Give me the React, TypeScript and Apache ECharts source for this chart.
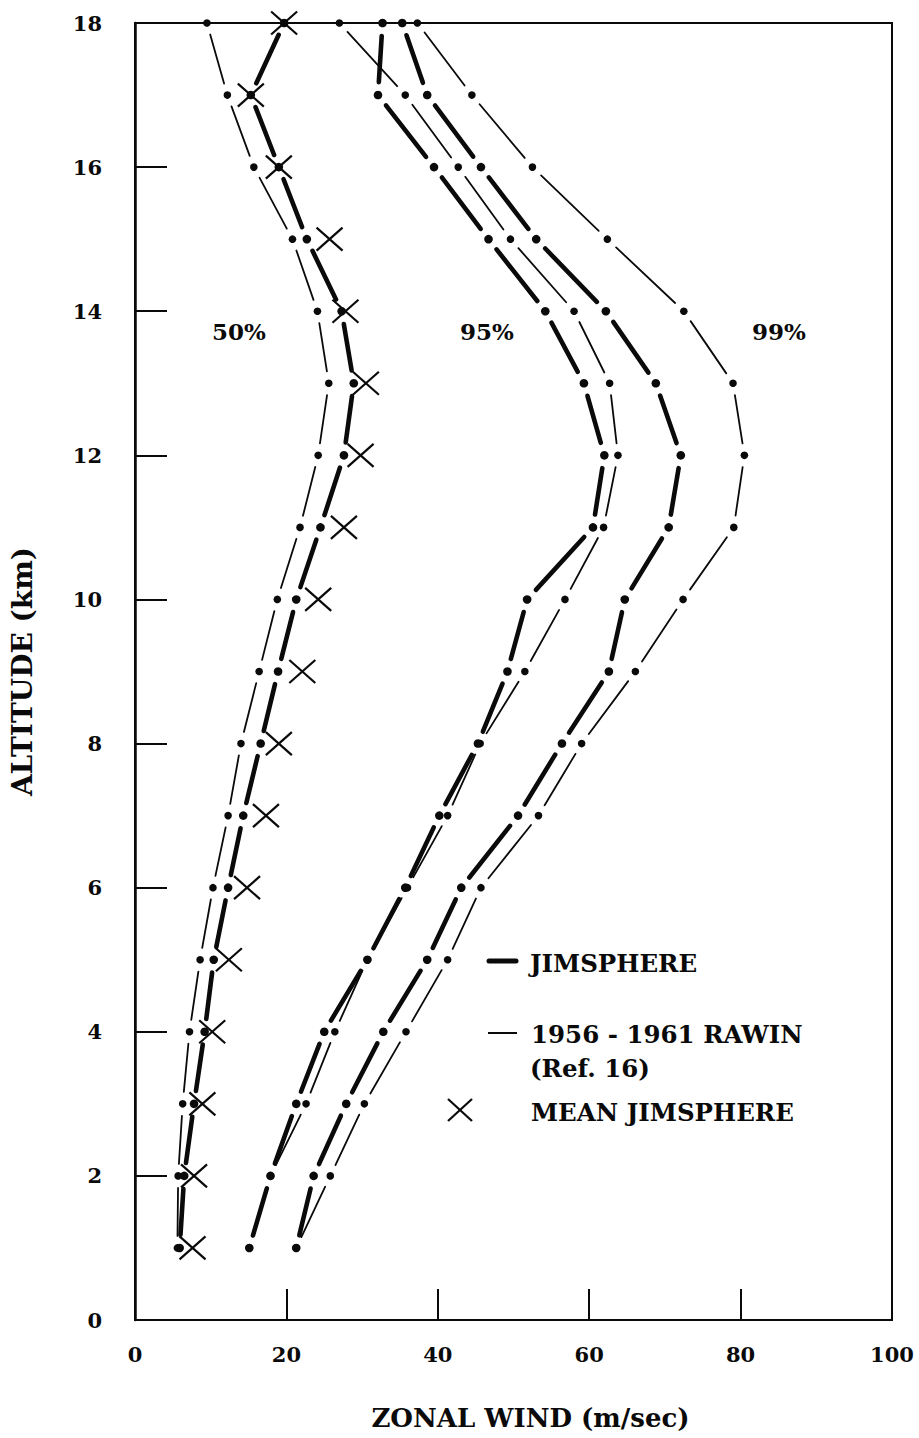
import { useEffect, useRef } from "react";
import * as echarts from "echarts";

// ---- data (altitude in km, zonal wind in m/sec) ----
const altitudeKm = [1, 2, 3, 4, 5, 6, 7, 8, 9, 10, 11, 12, 13, 14, 15, 16, 17, 18];
const rawin50 = [5.6, 5.7, 6.3, 7.2, 8.6, 10.3, 12.3, 14.0, 16.4, 18.8, 21.8, 24.2, 25.6, 24.1, 20.8, 15.7, 12.2, 9.5];
const jimsphere50 = [5.9, 6.5, 7.8, 9.2, 10.4, 12.3, 14.3, 16.6, 18.9, 21.3, 24.5, 27.6, 28.9, 27.3, 22.7, 19.0, 15.3, 19.7];
const meanJimsphere = [7.6, 7.8, 8.9, 10.2, 12.4, 14.8, 17.3, 19.0, 22.1, 24.2, 27.6, 29.8, 30.5, 27.8, 25.7, 19.0, 15.3, 19.7];
const jimsphere95 = [15.1, 17.9, 21.3, 25.0, 30.7, 35.7, 40.2, 45.3, 49.2, 51.8, 60.5, 62.0, 59.3, 54.2, 46.7, 39.5, 32.1, 32.7];
const rawin95 = [15.1, 17.9, 22.6, 26.4, 30.7, 36.0, 41.3, 45.6, 51.5, 56.8, 61.9, 63.8, 62.7, 58.0, 49.6, 42.7, 35.7, 27.0];
const jimsphere99 = [21.3, 23.6, 27.9, 32.8, 38.6, 43.1, 50.6, 56.4, 62.6, 64.7, 70.5, 72.1, 68.8, 62.2, 53.0, 45.7, 38.6, 35.3];
const rawin99 = [21.3, 25.8, 30.3, 35.8, 41.3, 45.7, 53.3, 59.0, 66.1, 72.4, 79.1, 80.5, 79.0, 72.5, 62.4, 52.5, 44.5, 37.3];

const percentLabels = ["50%", "95%", "99%"];
const legendLabels = ["JIMSPHERE", "1956 - 1961 RAWIN", "(Ref. 16)", "MEAN JIMSPHERE"];
const xAxisTitle = "ZONAL WIND (m/sec)";
const yAxisTitle = "ALTITUDE (km)";

const INK = "#0a0a0a";
const FONT = "DejaVu Serif";

function segmentRows(values: number[]) {
  return values.map((v, i) => {
    const j = i + 1 < values.length ? i + 1 : i;
    return [v, altitudeKm[i], values[j], altitudeKm[j]];
  });
}

function dashDotSeries(name: string, values: number[], width: number, dotR: number, gap: number, z: number) {
  return {
    type: "custom",
    name,
    data: segmentRows(values),
    encode: { x: [0, 2], y: [1, 3] },
    clip: false,
    z,
    silent: true,
    renderItem: (_params: any, api: any) => {
      const p0 = api.coord([Number(api.value(0)), Number(api.value(1))]);
      const p1 = api.coord([Number(api.value(2)), Number(api.value(3))]);
      const children: any[] = [
        { type: "circle", shape: { cx: p0[0], cy: p0[1], r: dotR }, style: { fill: INK } },
      ];
      const dx = p1[0] - p0[0];
      const dy = p1[1] - p0[1];
      const L = Math.sqrt(dx * dx + dy * dy);
      if (L > 2 * gap + 2) {
        const ux = dx / L;
        const uy = dy / L;
        children.push({
          type: "line",
          shape: { x1: p0[0] + ux * gap, y1: p0[1] + uy * gap, x2: p1[0] - ux * gap, y2: p1[1] - uy * gap },
          style: { stroke: INK, lineWidth: width, lineCap: "round" },
        });
      }
      return { type: "group", children };
    },
  };
}

function crossSeries(name: string, values: number[]) {
  return {
    type: "custom",
    name,
    data: values.map((v, i) => [v, altitudeKm[i]]),
    clip: false,
    z: 5,
    silent: true,
    renderItem: (_params: any, api: any) => {
      const p = api.coord([api.value(0), api.value(1)]);
      const hw = 13;
      const hh = 11.5;
      return {
        type: "group",
        children: [
          { type: "line", shape: { x1: p[0] - hw, y1: p[1] - hh, x2: p[0] + hw, y2: p[1] + hh }, style: { stroke: INK, lineWidth: 2.2 } },
          { type: "line", shape: { x1: p[0] - hw, y1: p[1] + hh, x2: p[0] + hw, y2: p[1] - hh }, style: { stroke: INK, lineWidth: 2.2 } },
        ],
      };
    },
  };
}

function textEl(text: string, x: number, y: number, size: number, align: string) {
  return {
    type: "text",
    x,
    y,
    silent: true,
    style: { text, fill: INK, fontFamily: FONT, fontWeight: "bold", fontSize: size, align, verticalAlign: "middle" },
  };
}

export default function App() {
  const ref = useRef<HTMLDivElement>(null);

  useEffect(() => {
    document.body.style.margin = "0";
    if (!ref.current) return;
    const chart = echarts.init(ref.current, null, { renderer: "svg" });

    const labelStyle = { color: INK, fontFamily: FONT, fontWeight: "bold", fontSize: 21 };

    chart.setOption({
      animation: false,
      backgroundColor: "#ffffff",
      grid: {
        left: 135,
        right: 27,
        top: 23,
        bottom: 118,
        show: true,
        borderColor: INK,
        borderWidth: 2,
        outerBoundsMode: "none",
      },
      xAxis: {
        type: "value",
        min: 0,
        max: 100,
        interval: 20,
        name: xAxisTitle,
        nameLocation: "middle",
        nameGap: 85,
        nameTextStyle: { color: INK, fontFamily: FONT, fontWeight: "bold", fontSize: 26, padding: [0, 0, 0, 34] },
        axisLine: { show: true, lineStyle: { color: INK, width: 2 } },
        axisTick: { show: true, inside: true, length: 31, lineStyle: { color: INK, width: 2 } },
        axisLabel: { ...labelStyle, margin: 24 },
        splitLine: { show: false },
      },
      yAxis: {
        type: "value",
        min: 0,
        max: 18,
        interval: 2,
        name: yAxisTitle,
        nameLocation: "middle",
        nameGap: 99,
        nameRotate: 90,
        nameTextStyle: { color: INK, fontFamily: FONT, fontWeight: "bold", fontSize: 28 },
        axisLine: { show: true, lineStyle: { color: INK, width: 2.5 } },
        axisTick: { show: true, inside: true, length: 32, lineStyle: { color: INK, width: 2 } },
        axisLabel: { ...labelStyle, margin: 33 },
        splitLine: { show: false },
      },
      series: [
        dashDotSeries("RAWIN 50%", rawin50, 1.8, 3.8, 12, 2),
        dashDotSeries("JIMSPHERE 50%", jimsphere50, 4.6, 4.3, 13, 3),
        dashDotSeries("RAWIN 95%", rawin95, 1.8, 3.8, 12, 2),
        dashDotSeries("JIMSPHERE 95%", jimsphere95, 4.6, 4.3, 13, 3),
        dashDotSeries("RAWIN 99%", rawin99, 1.8, 3.8, 12, 2),
        dashDotSeries("JIMSPHERE 99%", jimsphere99, 4.6, 4.3, 13, 3),
        crossSeries("MEAN JIMSPHERE", meanJimsphere),
      ],
      graphic: [
        textEl(percentLabels[0], 239, 331, 23, "center"),
        textEl(percentLabels[1], 487, 331, 23, "center"),
        textEl(percentLabels[2], 779, 331, 23, "center"),
        { type: "line", silent: true, shape: { x1: 489, y1: 961, x2: 516, y2: 961 }, style: { stroke: INK, lineWidth: 5, lineCap: "round" } },
        { type: "line", silent: true, shape: { x1: 488, y1: 1033, x2: 517, y2: 1033 }, style: { stroke: INK, lineWidth: 2 } },
        { type: "line", silent: true, shape: { x1: 448, y1: 1099, x2: 472, y2: 1121 }, style: { stroke: INK, lineWidth: 2.2 } },
        { type: "line", silent: true, shape: { x1: 448, y1: 1121, x2: 472, y2: 1099 }, style: { stroke: INK, lineWidth: 2.2 } },
        textEl(legendLabels[0], 530, 963, 24.5, "left"),
        textEl(legendLabels[1], 531, 1034, 24.5, "left"),
        textEl(legendLabels[2], 530, 1068, 24.5, "left"),
        textEl(legendLabels[3], 531, 1112, 24.5, "left"),
      ],
    });

    return () => chart.dispose();
  }, []);

  return <div ref={ref} style={{ width: 919, height: 1438 }} />;
}
